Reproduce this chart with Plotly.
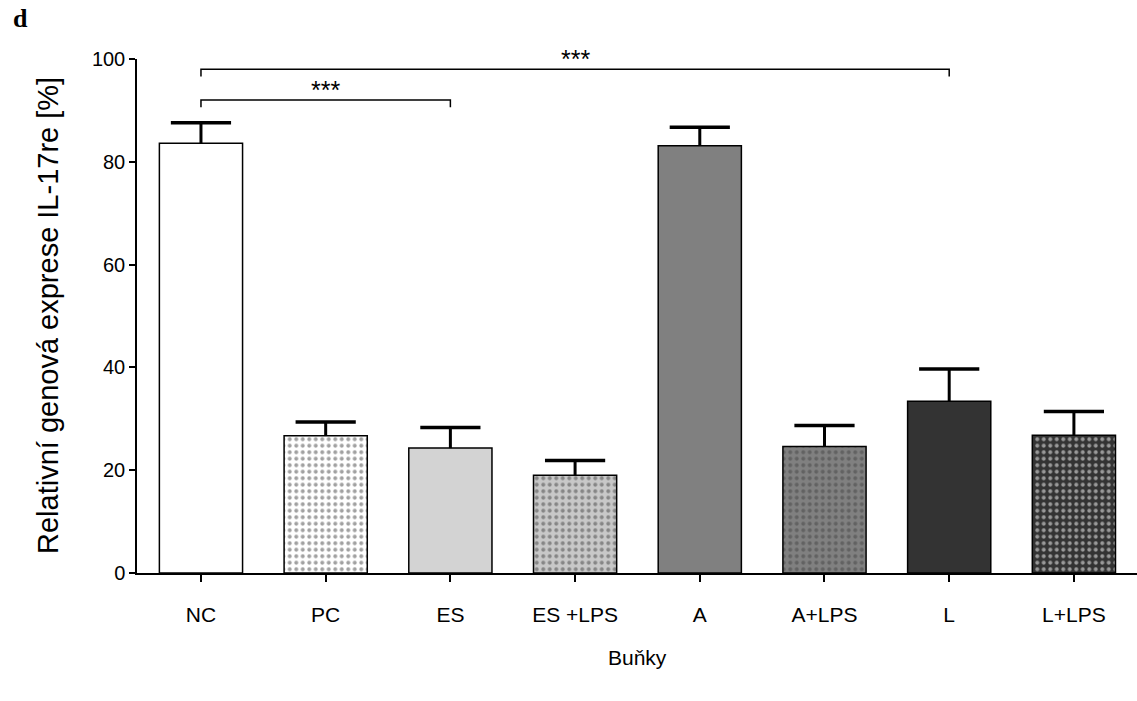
import plotly.graph_objects as go

# Relative IL-17re expression per cell group (mean and upper SEM)
groups = ["NC", "PC", "ES", "ES +LPS", "A", "A+LPS", "L", "L+LPS"]
means = [83.6, 26.7, 24.3, 19.0, 83.1, 24.6, 33.4, 26.8]
errors = [4.0, 2.7, 4.0, 2.9, 3.6, 4.1, 6.3, 4.6]

fill_colors = ["#ffffff", "#ffffff", "#d3d3d3", "#c8c8c8",
               "#808080", "#808080", "#333333", "#333333"]
dot_shapes = ["", ".", "", ".", "", ".", "", "."]
dot_colors = ["#000000", "#000000", "#000000", "#000000",
              "#000000", "#000000", "#000000", "#ffffff"]

# Significance brackets: (start index, end index, height, label)
brackets = [(0, 2, 92.0, "***"), (0, 6, 98.0, "***")]

FONT = "Liberation Sans, Arial, sans-serif"
x_idx = list(range(len(groups)))
tops = [m + e for m, e in zip(means, errors)]

fig = go.Figure()
fig.add_trace(go.Bar(
    x=x_idx,
    y=means,
    width=0.667,
    marker=dict(
        color=fill_colors,
        line=dict(color="#000000", width=1.5),
        pattern=dict(shape=dot_shapes, fgcolor=dot_colors, size=6.5,
                     solidity=0.3, fillmode="overlay"),
    ),
    # upward stem only; the cap is drawn by the marker trace below
    error_y=dict(type="data", array=errors, arrayminus=[0] * len(errors),
                 symmetric=False, color="#000000", thickness=3, width=0),
    showlegend=False,
))
fig.add_trace(go.Scatter(
    x=x_idx, y=tops, mode="markers",
    marker=dict(symbol="line-ew", size=43, line=dict(color="#000000", width=3.5)),
    showlegend=False, hoverinfo="skip",
))

shapes = []
annotations = []
drop = 1.4
for a, b, h, label in brackets:
    shapes.append(dict(
        type="path", xref="x", yref="y",
        path=f"M {a},{h - drop} L {a},{h} L {b},{h} L {b},{h - drop}",
        line=dict(color="#000000", width=1.5),
    ))
    annotations.append(dict(
        x=(a + b) / 2, y=h + 2.0, xref="x", yref="y", text=label,
        showarrow=False, yanchor="middle",
        font=dict(family=FONT, size=25, color="#000000"),
    ))

# Axis titles and panel letter
annotations.append(dict(
    x=0.5, y=-0.165, xref="paper", yref="paper", text="Buňky",
    showarrow=False, xanchor="center", yanchor="middle",
    font=dict(family=FONT, size=21, color="#000000"),
))
annotations.append(dict(
    x=-0.089, y=0.5, xref="paper", yref="paper",
    text="Relativní genová exprese IL-17re [%]",
    showarrow=False, textangle=-90, xanchor="center", yanchor="middle",
    font=dict(family=FONT, size=29, color="#000000"),
))
annotations.append(dict(
    x=-0.117, y=1.078, xref="paper", yref="paper", text="<b>d</b>",
    showarrow=False, xanchor="center", yanchor="middle",
    font=dict(family="Liberation Serif, Times New Roman, serif", size=26, color="#000000"),
))

fig.update_layout(
    width=1137, height=701,
    margin=dict(l=137, r=0, t=59, b=128),
    paper_bgcolor="#ffffff", plot_bgcolor="#ffffff",
    shapes=shapes, annotations=annotations,
    font=dict(family=FONT, size=20, color="#000000"),
    xaxis=dict(
        range=[-0.513, 7.506], tickmode="array", tickvals=x_idx, ticktext=groups,
        showline=True, linecolor="#000000", linewidth=1.5,
        ticks="outside", ticklen=7, tickwidth=1.5, tickcolor="#000000",
        showgrid=False, zeroline=False, tickfont=dict(size=21),
        ticklabelstandoff=15,
    ),
    yaxis=dict(
        range=[0, 100], dtick=20, tick0=0,
        showline=True, linecolor="#000000", linewidth=1.5,
        ticks="outside", ticklen=6, tickwidth=1.5, tickcolor="#000000",
        showgrid=False, zeroline=False, tickfont=dict(size=20),
    ),
)

fig.write_html("out.html")
